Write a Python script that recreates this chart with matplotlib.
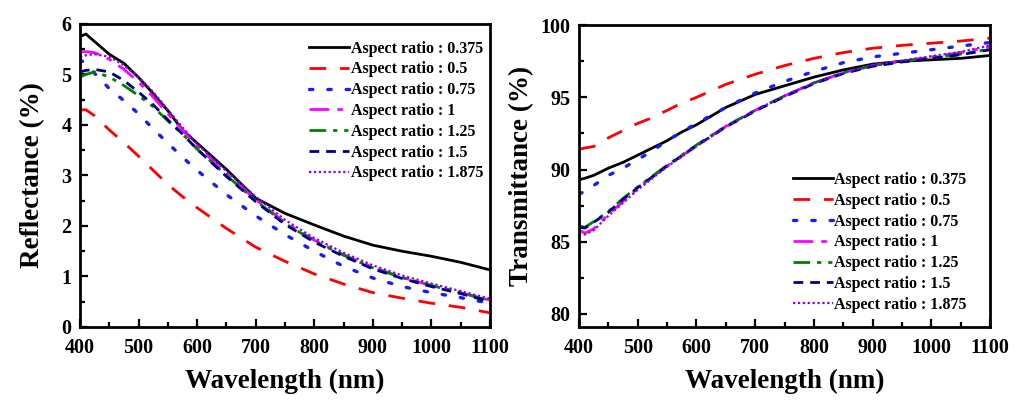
"""
반사율 / 투과율 스펙트럼 — Aspect ratio 비교 그래프
"""

import numpy as np
import matplotlib
matplotlib.use("Agg")
import matplotlib.pyplot as plt
from matplotlib.ticker import MultipleLocator

# ──────────────────────────────────────────────────────────────
# 1. 데이터
# ──────────────────────────────────────────────────────────────

wavelength = [400, 410, 425, 450, 475, 500, 525, 550, 575, 600,
              650, 700, 750, 800, 850, 900, 950, 1000, 1050, 1100]

labels = ["Aspect ratio : 0.375", "Aspect ratio : 0.5", "Aspect ratio : 0.75",
          "Aspect ratio : 1", "Aspect ratio : 1.25", "Aspect ratio : 1.5",
          "Aspect ratio : 1.875"]

# Reflectance (%)
refl_0375 = [5.75, 5.80, 5.65, 5.40, 5.22, 4.94, 4.62, 4.28, 3.90, 3.64,
             3.12, 2.55, 2.25, 2.02, 1.80, 1.62, 1.50, 1.40, 1.28, 1.13]
refl_05 = [4.30, 4.30, 4.18, 3.90, 3.65, 3.38, 3.10, 2.82, 2.58, 2.36,
           1.95, 1.58, 1.30, 1.05, 0.85, 0.68, 0.57, 0.47, 0.39, 0.28]
refl_075 = [5.30, 5.20, 5.02, 4.72, 4.48, 4.22, 3.92, 3.64, 3.36, 3.10,
            2.62, 2.20, 1.83, 1.50, 1.20, 0.97, 0.80, 0.68, 0.58, 0.47]
refl_1 = [5.45, 5.45, 5.43, 5.30, 5.10, 4.85, 4.55, 4.22, 3.90, 3.58,
          3.03, 2.52, 2.07, 1.72, 1.43, 1.18, 0.98, 0.82, 0.68, 0.53]
refl_125 = [4.95, 5.00, 5.05, 4.95, 4.78, 4.58, 4.36, 4.08, 3.82, 3.52,
            3.00, 2.50, 2.05, 1.70, 1.42, 1.17, 0.98, 0.82, 0.68, 0.52]
refl_15 = [5.05, 5.08, 5.10, 5.05, 4.88, 4.65, 4.40, 4.10, 3.82, 3.52,
           2.98, 2.48, 2.03, 1.68, 1.40, 1.15, 0.96, 0.80, 0.66, 0.50]
refl_1875 = [5.35, 5.38, 5.40, 5.35, 5.18, 4.95, 4.65, 4.30, 3.95, 3.62,
             3.08, 2.58, 2.12, 1.76, 1.47, 1.22, 1.02, 0.86, 0.71, 0.56]

# Transmittance (%)
trans_0375 = [89.3, 89.4, 89.6, 90.1, 90.5, 91.0, 91.5, 92.0, 92.6, 93.1,
              94.3, 95.2, 95.8, 96.4, 96.9, 97.3, 97.5, 97.6, 97.7, 97.9]
trans_05 = [91.4, 91.5, 91.6, 92.2, 92.7, 93.2, 93.6, 94.1, 94.6, 95.0,
            95.9, 96.6, 97.2, 97.7, 98.1, 98.4, 98.6, 98.75, 98.9, 99.1]
trans_075 = [88.3, 88.5, 88.9, 89.6, 90.1, 90.7, 91.3, 92.0, 92.6, 93.2,
             94.3, 95.3, 96.1, 96.8, 97.4, 97.8, 98.05, 98.3, 98.55, 98.8]
trans_1 = [85.8, 85.6, 85.9, 86.9, 87.8, 88.7, 89.5, 90.25, 90.95, 91.65,
           93.0, 94.1, 95.1, 96.0, 96.7, 97.2, 97.5, 97.8, 98.1, 98.5]
trans_125 = [86.1, 86.0, 86.4, 87.1, 88.0, 88.8, 89.55, 90.3, 91.0, 91.7,
             93.0, 94.1, 95.1, 96.0, 96.7, 97.2, 97.5, 97.75, 98.0, 98.35]
trans_15 = [86.0, 85.95, 86.35, 87.05, 87.95, 88.75, 89.5, 90.25, 90.95, 91.65,
            92.95, 94.05, 95.05, 95.95, 96.65, 97.15, 97.45, 97.7, 97.95, 98.3]
trans_1875 = [85.6, 85.5, 85.8, 86.8, 87.7, 88.6, 89.4, 90.2, 90.9, 91.6,
              92.95, 94.1, 95.1, 96.0, 96.7, 97.25, 97.55, 97.85, 98.15, 98.6]

# ──────────────────────────────────────────────────────────────
# 2. 선 스타일
# ──────────────────────────────────────────────────────────────

styles = [
    dict(color="black", ls="-", lw=2.0),
    dict(color="#ff0000", ls=(0, (6, 5)), lw=2.0),
    dict(color="#1a1aff", ls=(0, (1, 4.5)), lw=2.4, dash_capstyle="round"),
    dict(color="#ff00ff", ls=(0, (7, 3, 2, 3)), lw=2.0),
    dict(color="#008000", ls=(0, (6, 2.5, 1.5, 2.5, 1.5, 2.5)), lw=2.0),
    dict(color="#000080", ls=(0, (3.5, 2.5)), lw=2.0),
    dict(color="#8000ff", ls=(0, (1, 1.2)), lw=1.6),
]

plt.rcParams["font.family"] = ["Liberation Serif", "DejaVu Serif"]
plt.rcParams["font.weight"] = "bold"


def style_axes(ax, ymajor, yminor):
    ax.set_xlim(400, 1100)
    ax.xaxis.set_major_locator(MultipleLocator(100))
    ax.xaxis.set_minor_locator(MultipleLocator(50))
    ax.yaxis.set_major_locator(MultipleLocator(ymajor))
    ax.yaxis.set_minor_locator(MultipleLocator(yminor))
    ax.tick_params(which="both", direction="in", width=1.6, labelsize=14.5)
    ax.tick_params(axis="x", pad=8)
    ax.tick_params(axis="y", pad=6)
    ax.tick_params(which="major", length=6)
    ax.tick_params(which="minor", length=3.5)
    for sp in ax.spines.values():
        sp.set_linewidth(2.0)
    ax.set_xlabel("Wavelength (nm)", fontsize=19.5, fontweight="bold", labelpad=8)


# ──────────────────────────────────────────────────────────────
# 3. 그리기
# ──────────────────────────────────────────────────────────────

fig = plt.figure(figsize=(10.18, 4.03), dpi=100)
ax1 = fig.add_axes([0.0786, 0.1886, 0.4028, 0.752])
ax2 = fig.add_axes([0.5688, 0.1886, 0.4037, 0.749])

refl = [refl_0375, refl_05, refl_075, refl_1, refl_125, refl_15, refl_1875]
trans = [trans_0375, trans_05, trans_075, trans_1, trans_125, trans_15, trans_1875]

for y, lab, st in zip(refl, labels, styles):
    ax1.plot(wavelength, y, label=lab, **st)
for y, lab, st in zip(trans, labels, styles):
    ax2.plot(wavelength, y, label=lab, **st)

ax1.set_ylim(0, 6)
style_axes(ax1, 1, 0.5)
ax1.set_ylabel("Reflectance (%)", fontsize=19.5, fontweight="bold", labelpad=12)

ax2.set_ylim(79.1, 100)
style_axes(ax2, 5, 2.5)
ax2.set_ylabel("Transmittance (%)", fontsize=19.5, fontweight="bold", labelpad=5)

leg_kw = dict(frameon=False, handlelength=2.5, handletextpad=0.1,
              labelspacing=0.3, borderpad=0, borderaxespad=0,
              prop={"weight": "bold", "size": 11.5})
ax1.legend(loc="upper right", bbox_to_anchor=(0.983, 0.945), **leg_kw)
ax2.legend(loc="lower right", bbox_to_anchor=(0.944, 0.047), **leg_kw)

fig.savefig("out.png", dpi=100)
plt.close(fig)
